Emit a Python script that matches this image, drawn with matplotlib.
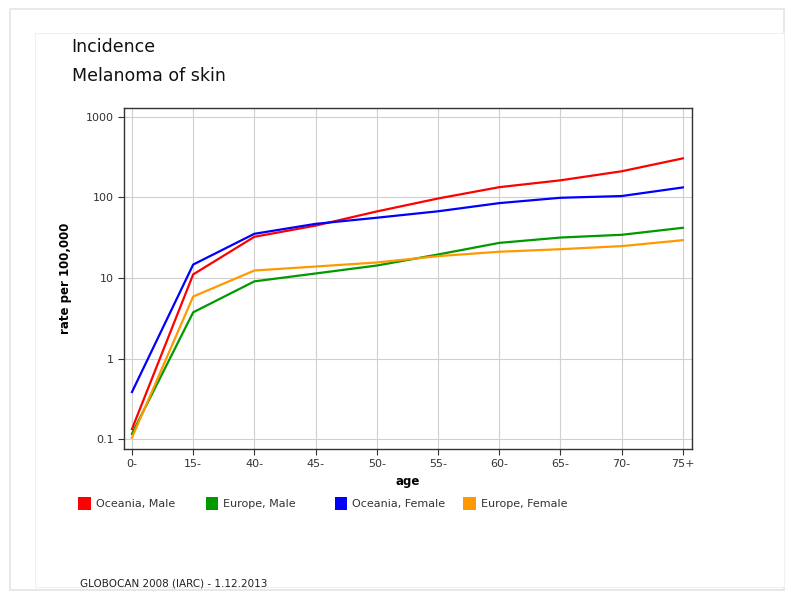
import matplotlib
matplotlib.use("Agg")
import matplotlib.pyplot as plt
from matplotlib.patches import Rectangle
from matplotlib.ticker import FixedLocator, FixedFormatter, NullLocator

# age groups and incidence rates per 100,000
ages = ['0-', '15-', '40-', '45-', '50-', '55-', '60-', '65-', '70-', '75+']
oceania_male = [0.134, 11.1, 32.5, 44.7, 67, 97, 134, 163, 211, 305]
europe_male = [0.117, 3.76, 9.1, 11.4, 14.3, 19.6, 27.3, 31.8, 34.4, 42]
oceania_female = [0.386, 14.7, 35.4, 47, 56, 67.3, 85, 99, 104, 133]
europe_female = [0.105, 5.9, 12.4, 13.9, 15.6, 18.7, 21.2, 22.8, 24.9, 29.5]

series = [
    ('Oceania, Male', oceania_male, '#ff0000'),
    ('Europe, Male', europe_male, '#009900'),
    ('Oceania, Female', oceania_female, '#0000ff'),
    ('Europe, Female', europe_female, '#ff9900'),
]
y_ticks = [0.1, 1, 10, 100, 1000]
y_tick_labels = ['0.1', '1', '10', '100', '1000']

fig = plt.figure(figsize=(7.97, 6.08), dpi=100)

# card background with faint border
fig.patches.append(Rectangle((0.012, 0.03), 0.972, 0.955, transform=fig.transFigure,
                             facecolor='white', edgecolor='#e4e4e4', lw=1.2, zorder=-2))
fig.patches.append(Rectangle((0.044, 0.035), 0.94, 0.91, transform=fig.transFigure,
                             facecolor='white', edgecolor='#f0f0f0', lw=0.8, zorder=-1))

fig.text(0.09, 0.922, 'Incidence', fontsize=12.5, color='#111111', va='center')
fig.text(0.09, 0.875, 'Melanoma of skin', fontsize=12.5, color='#111111', va='center')

ax = fig.add_axes([0.1556, 0.2615, 0.7127, 0.561])
ax.set_zorder(2)
x = list(range(len(ages)))
for name, vals, col in series:
    ax.plot(x, vals, color=col, lw=1.6, label=name)

ax.set_yscale('log')
ax.set_ylim(10 ** -1.12, 10 ** 3.11)
ax.set_xlim(-0.13, 9.15)
ax.yaxis.set_major_locator(FixedLocator(y_ticks))
ax.yaxis.set_major_formatter(FixedFormatter(y_tick_labels))
ax.yaxis.set_minor_locator(NullLocator())
ax.set_xticks(x)
ax.set_xticklabels(ages)
ax.tick_params(labelsize=8, colors='#333333', length=4, width=0.8)
ax.grid(True, color='#d0d0d0', lw=0.8)
ax.set_axisbelow(True)
for s in ax.spines.values():
    s.set_color('#333333')
    s.set_linewidth(1.0)

ax.set_xlabel('age', fontsize=8.5, fontweight='bold', labelpad=4)
ax.set_ylabel('rate per 100,000', fontsize=8.5, fontweight='bold', labelpad=10)

# legend row with square markers
leg_x = [0.098, 0.258, 0.42, 0.581]
for (name, vals, col), lx in zip(series, leg_x):
    fig.patches.append(Rectangle((lx, 0.161), 0.016, 0.021, transform=fig.transFigure,
                                 facecolor=col, edgecolor='none'))
    fig.text(lx + 0.022, 0.171, name, fontsize=8, color='#333333', va='center')

fig.text(0.1, 0.04, 'GLOBOCAN 2008 (IARC) - 1.12.2013', fontsize=7.5, color='#222222',
         family=['Liberation Sans Narrow', 'DejaVu Sans'], va='center')

fig.savefig('out.png', dpi=100)
